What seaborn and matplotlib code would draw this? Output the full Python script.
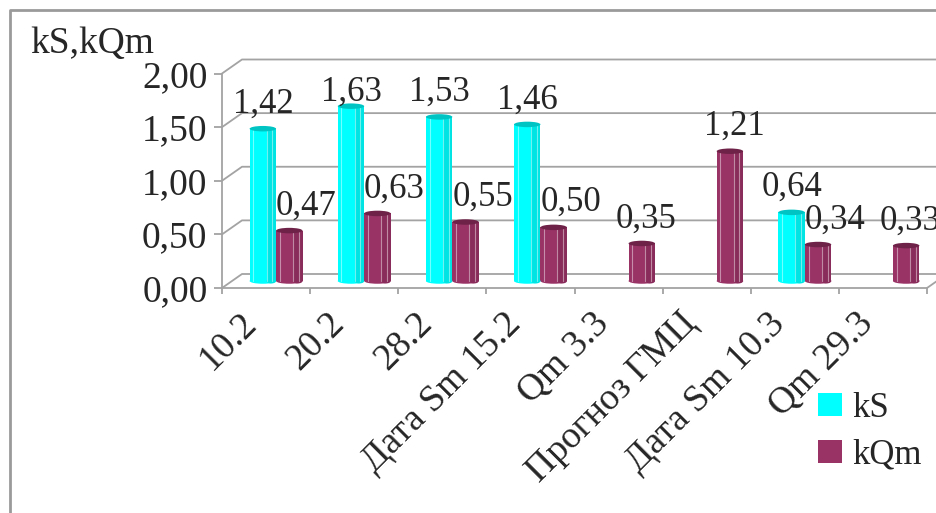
import numpy as np
import pandas as pd
import matplotlib
matplotlib.use("Agg")
import matplotlib.pyplot as plt
import seaborn as sns
from matplotlib.transforms import ScaledTranslation
from matplotlib.patches import Ellipse, Rectangle
from matplotlib.lines import Line2D
from matplotlib.ticker import FuncFormatter, FixedLocator

# ---- data -------------------------------------------------------------
categories = ["10.2", "20.2", "28.2", "Дата Sm 15.2", "Qm 3.3",
              "Прогноз ГМЦ", "Дата Sm 10.3", "Qm 29.3"]
ks_values = [1.42, 1.63, 1.53, 1.46, np.nan, np.nan, 0.64, np.nan]
kqm_values = [0.47, 0.63, 0.55, 0.50, 0.35, 1.21, 0.34, 0.33]
series_names = ["kS", "kQm"]
y_ticks = [0.0, 0.5, 1.0, 1.5, 2.0]
axis_title = "kS,kQm"

df = pd.DataFrame({
    "category": categories * 2,
    "series": [series_names[0]] * len(categories) + [series_names[1]] * len(categories),
    "value": ks_values + kqm_values,
}).dropna()

# ---- style ------------------------------------------------------------
sns.set_theme(style="white")
plt.rcParams["font.family"] = ["Liberation Serif", "DejaVu Serif"]
FS = 25        # value labels, legend
FS_AX = 27     # axis tick labels, axis title
GRID = "#a3a3a3"
CYAN, CYAN_SIDE, CYAN_TOP = "#00ffff", "#00e4e4", "#00c4c4"
PURP, PURP_SIDE, PURP_TOP = "#993366", "#8a2c5b", "#6f2248"
colors = {"kS": (CYAN, CYAN_SIDE, CYAN_TOP), "kQm": (PURP, PURP_SIDE, PURP_TOP)}

W, H = 936, 513
fig = plt.figure(figsize=(W / 100, H / 100), dpi=100)
# front plane of the 3-D box
ax = fig.add_axes([222 / W, 1 - 288 / H, (927 - 222) / W, (288 - 73.5) / H])
ax.patch.set_visible(False)

sns.barplot(data=df, x="category", y="value", hue="series",
            order=categories, hue_order=series_names,
            palette=[CYAN, PURP], saturation=1, width=0.6,
            edgecolor="none", linewidth=0, ax=ax, zorder=3)
ax.set_xlim(-0.5, len(categories) - 0.5)
ax.set_ylim(0, 2)

# pixel -> data conversion for depth offsets
px_x = len(categories) / (927 - 222)
px_y = 2 / (288 - 73.5)
DX, DY = 20 * px_x, 14 * px_y          # depth of the box
mid = ScaledTranslation(10 / 100, 7 / 100, fig.dpi_scale_trans)
mid_tr = ax.transData + mid

# back wall, gridlines and floor edge
x0, x1 = -0.5, len(categories) - 0.5
for v in y_ticks:
    ax.add_line(Line2D([x0, x0 + DX, x1 + DX], [v, v + DY, v + DY],
                       color=GRID, lw=1.3, zorder=1, clip_on=False))
ax.add_line(Line2D([x1, x1 + DX], [0, DY], color=GRID, lw=1.3, zorder=1, clip_on=False))

for side in ("top", "right"):
    ax.spines[side].set_visible(False)
for side in ("left", "bottom"):
    ax.spines[side].set_color(GRID)
    ax.spines[side].set_linewidth(1.3)

# cylinders drawn from the seaborn bars
label_info = []
for container, name in zip(ax.containers, series_names):
    base, side, top = colors[name]
    for bar, val in zip(container.patches, container.datavalues):
        if np.isnan(val):
            continue
        bar.set_transform(mid_tr)
        bar.set_clip_on(False)
        bx, bw, bh = bar.get_x(), bar.get_width(), bar.get_height()
        eh = 5.5 * px_y
        ax.add_patch(Ellipse((bx + bw / 2, 0), bw, eh, color=base, lw=0,
                             transform=mid_tr, zorder=2.9, clip_on=False))
        ax.add_patch(Rectangle((bx + 0.64 * bw, 0), 0.36 * bw, bh, color=side, lw=0,
                               transform=mid_tr, zorder=3.1, clip_on=False))
        ax.add_patch(Ellipse((bx + 0.82 * bw, 0), 0.36 * bw, eh * 0.9, color=side, lw=0,
                             transform=mid_tr, zorder=3.0, clip_on=False))
        for fx in (0.14, 0.64, 0.86):
            ax.add_line(Line2D([bx + fx * bw] * 2, [0, bh], color="white", alpha=0.45,
                               lw=0.8, transform=mid_tr, zorder=3.2, clip_on=False))
        ax.add_patch(Ellipse((bx + bw / 2, bh), bw, eh, color=top, lw=0,
                             transform=mid_tr, zorder=3.3, clip_on=False))
        label_info.append((name, bx + bw / 2, val))

# value labels
has_ks = {round(c.get_x() + c.get_width() / 2 + 0.15) for c in ax.containers[0].patches
          if not np.isnan(c.get_height())}
for name, cx, val in label_info:
    shift = 0
    if name == "kQm":
        shift = 17 if round(cx - 0.15) in has_ks else 4
    ly = min(val + 0.23, 1.76)
    ax.text(cx + shift * px_x, ly, f"{val:.2f}".replace(".", ","), transform=mid_tr,
            ha="center", va="center", fontsize=FS, zorder=5, clip_on=False)

# axes ticks and labels
ax.yaxis.set_major_locator(FixedLocator(y_ticks))
ax.yaxis.set_major_formatter(FuncFormatter(lambda v, _: f"{v:.2f}".replace(".", ",")))
ax.tick_params(axis="y", length=5.5, width=1.3, color=GRID, pad=5, labelsize=FS_AX, left=True)
ax.set_xticks(np.arange(-0.5, len(categories)), minor=True)
ax.tick_params(axis="x", which="minor", length=4.5, width=1.3, color=GRID, bottom=True)
ax.tick_params(axis="x", which="major", length=0, pad=22, labelsize=FS_AX)
ax.set_xticks(range(len(categories)))
ax.set_xticklabels(categories, rotation=45, ha="right", va="center", rotation_mode="anchor")
shift_lbl = ScaledTranslation(-15 / 100, 0, fig.dpi_scale_trans)
for lbl in ax.get_xticklabels():
    lbl.set_transform(lbl.get_transform() + shift_lbl)
ax.set_xlabel("")
ax.set_ylabel("")

fig.text(30 / W, 1 - 53 / H, axis_title, ha="left", va="baseline", fontsize=FS_AX)

sns.move_legend(ax, "upper left", bbox_to_anchor=(818 / W, 1 - 392 / H),
                bbox_transform=fig.transFigure, frameon=False, title=None,
                fontsize=FS, handlelength=0.7, handleheight=0.65,
                handletextpad=0.3, labelspacing=0.4, borderpad=0, borderaxespad=0)

# outer chart border
fig.add_artist(Line2D([10 / W, 10 / W, 1], [0, 1 - 10 / H, 1 - 10 / H],
                      transform=fig.transFigure, color="#9a9a9a", lw=2))

fig.savefig("out.png", dpi=100)
